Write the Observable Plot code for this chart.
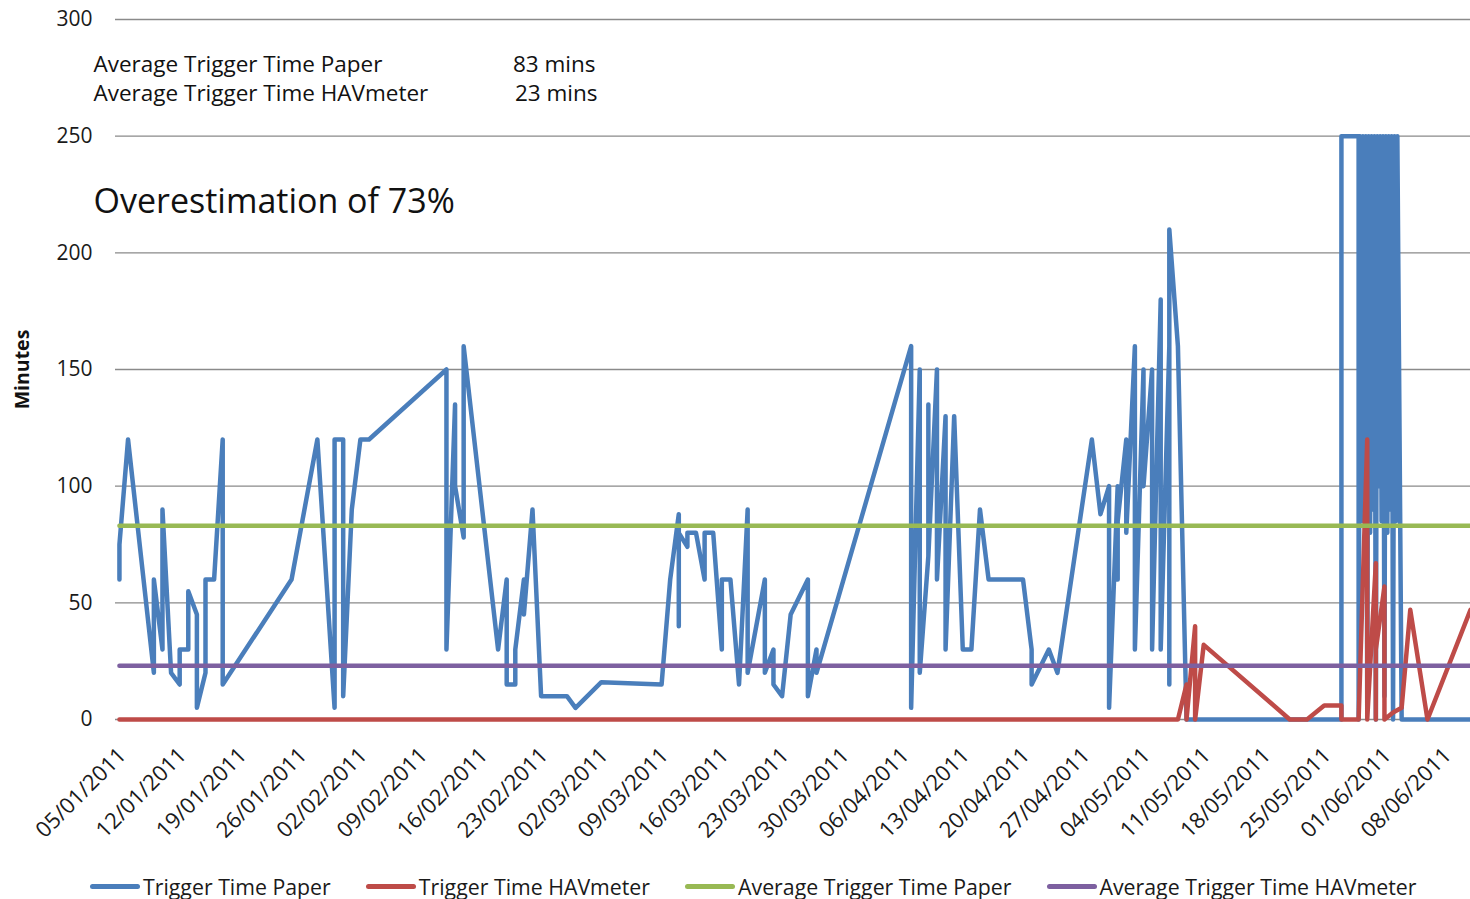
<!DOCTYPE html>
<html><head><meta charset="utf-8">
<script src="https://cdn.jsdelivr.net/npm/d3@7"></script>
<script src="https://cdn.jsdelivr.net/npm/@observablehq/plot@0.6"></script>
<style>
html,body{margin:0;padding:0;background:#fff;}
#wrap{position:relative;width:1470px;height:899px;overflow:hidden;font-family:"Open Sans",sans-serif;}
#legend{position:absolute;left:90px;top:872px;height:28px;display:flex;align-items:center;gap:35px;font-size:21.3px;color:#1a1a1a;white-space:nowrap;}
.item{display:flex;align-items:center;}
.sw{width:50px;height:5px;border-radius:3px;margin-right:3px;}
</style></head><body><div id="wrap"><div id="chart"></div><div id="legend"></div></div>
<script>
const paperDates = [
"2011-01-05","2011-01-05","2011-01-06","2011-01-09","2011-01-09","2011-01-10","2011-01-10","2011-01-11","2011-01-12","2011-01-12",
"2011-01-13","2011-01-13","2011-01-14","2011-01-14","2011-01-15","2011-01-15","2011-01-16","2011-01-17","2011-01-17","2011-01-25",
"2011-01-28","2011-01-30","2011-01-30","2011-01-31","2011-01-31","2011-02-01","2011-02-02","2011-02-03","2011-02-12","2011-02-12",
"2011-02-13","2011-02-13","2011-02-14","2011-02-14","2011-02-18","2011-02-19","2011-02-19","2011-02-20","2011-02-20","2011-02-21",
"2011-02-21","2011-02-22","2011-02-23","2011-02-26","2011-02-27","2011-03-02","2011-03-09","2011-03-10","2011-03-11","2011-03-11",
"2011-03-11","2011-03-12","2011-03-12","2011-03-13","2011-03-14","2011-03-14","2011-03-15","2011-03-16","2011-03-16","2011-03-17",
"2011-03-18","2011-03-19","2011-03-19","2011-03-21","2011-03-21","2011-03-22","2011-03-22","2011-03-23","2011-03-24","2011-03-26",
"2011-03-26","2011-03-27","2011-03-27","2011-04-07","2011-04-07","2011-04-08","2011-04-08","2011-04-09","2011-04-09","2011-04-09",
"2011-04-10","2011-04-10","2011-04-11","2011-04-11","2011-04-12","2011-04-13","2011-04-14","2011-04-15","2011-04-16","2011-04-20",
"2011-04-21","2011-04-21","2011-04-23","2011-04-24","2011-04-28","2011-04-29","2011-04-30","2011-04-30","2011-05-01","2011-05-01",
"2011-05-01","2011-05-02","2011-05-02","2011-05-03","2011-05-03","2011-05-04","2011-05-04","2011-05-05","2011-05-05","2011-05-06",
"2011-05-06","2011-05-07","2011-05-07","2011-05-07","2011-05-08","2011-05-09","2011-05-27","2011-05-27","2011-05-29","2011-05-29",
"2011-05-29T04:00","2011-05-29T08:00","2011-05-29T12:00","2011-05-29T16:00","2011-05-29T20:00",
"2011-05-30T00:00","2011-05-30T04:00","2011-05-30T08:00","2011-05-30T12:00","2011-05-30T16:00","2011-05-30T20:00",
"2011-05-31T00:00","2011-05-31T04:00","2011-05-31T08:00","2011-05-31T12:00","2011-05-31T16:00","2011-05-31T20:00",
"2011-06-01T00:00","2011-06-01T04:00","2011-06-01T08:00","2011-06-01T12:00","2011-06-01T16:00","2011-06-01T20:00",
"2011-06-02T00:00","2011-06-02T04:00","2011-06-02T08:00","2011-06-02T12:00",
"2011-06-03","2011-06-11"];
const paperMinutes = [
60,75,120,20,60,30,90,20,15,30,
30,55,45,5,20,60,60,120,15,60,
120,5,120,120,10,90,120,120,150,30,
135,100,78,160,30,60,15,15,30,60,
45,90,10,10,5,16,15,60,88,40,
80,74,80,80,60,80,80,30,60,60,
15,90,20,60,20,30,15,10,45,60,
10,30,20,160,5,150,20,70,135,70,
150,60,130,30,130,30,30,90,60,60,
30,15,30,20,120,88,100,5,100,60,
85,120,80,160,30,150,100,150,30,180,
30,160,15,210,160,0,0,250,250,0,
250,85,250,95,250,
5,250,80,250,90,250,
0,250,100,250,85,250,
10,250,80,250,90,250,
0,250,85,250,
0,0];
const havDates = [
"2011-01-05","2011-05-08","2011-05-09","2011-05-09","2011-05-10","2011-05-10","2011-05-11","2011-05-21","2011-05-23","2011-05-25",
"2011-05-27","2011-05-27","2011-05-29","2011-05-30","2011-05-30","2011-05-30","2011-05-30","2011-05-31","2011-05-31","2011-05-31",
"2011-06-01","2011-06-01","2011-06-02","2011-06-03","2011-06-04","2011-06-06","2011-06-11"];
const havMinutes = [
0,0,15,0,40,0,32,0,0,6,
6,0,0,120,0,40,0,67,0,30,
57,0,3,5,47,0,47];
const avgPaper = 83;
const avgHav = 23;
const yTicks = [0,50,100,150,200,250,300];
const xTickDates = ["2011-01-05","2011-01-12","2011-01-19","2011-01-26","2011-02-02","2011-02-09","2011-02-16","2011-02-23",
"2011-03-02","2011-03-09","2011-03-16","2011-03-23","2011-03-30","2011-04-06","2011-04-13","2011-04-20","2011-04-27",
"2011-05-04","2011-05-11","2011-05-18","2011-05-25","2011-06-01","2011-06-08"];
const xDomain = ["2011-01-04T13:00:00Z","2011-06-11T00:00:00Z"];
const seriesNames = ["Trigger Time Paper","Trigger Time HAVmeter","Average Trigger Time Paper","Average Trigger Time HAVmeter"];
const seriesColors = ["#4A7EBB","#BE4B48","#98B954","#7D60A0"];
const noteLabels = ["Average Trigger Time Paper","Average Trigger Time HAVmeter"];
const noteValues = ["83 mins","23 mins"];
const headline = "Overestimation of 73%";
const yTitle = "Minutes";

const parse = d => new Date(d.length === 10 ? d + "T00:00:00Z" : (d.endsWith("Z") ? d : d + ":00Z"));
const paper = paperDates.map((d, i) => ({date: parse(d), value: paperMinutes[i]}));
const hav = havDates.map((d, i) => ({date: parse(d), value: havMinutes[i]}));
const firstDay = parse(paperDates[0]);
const lastDay = parse(xDomain[1]);
const avgP = [{date: firstDay, value: avgPaper}, {date: lastDay, value: avgPaper}];
const avgH = [{date: firstDay, value: avgHav}, {date: lastDay, value: avgHav}];
const fmt = d3.utcFormat("%d/%m/%Y");
const lineOpts = {x: "date", y: "value", strokeWidth: 4.5, strokeLinejoin: "round", strokeLinecap: "round"};
const note = {frameAnchor: "top-left", lineAnchor: "middle", fill: "#111"};

const chart = Plot.plot({
  width: 1470, height: 860,
  marginLeft: 115, marginRight: 0, marginTop: 19, marginBottom: 141,
  style: {fontFamily: "Open Sans", fontSize: "21px", color: "#1a1a1a", background: "#fff", overflow: "visible"},
  x: {type: "utc", domain: xDomain.map(parse)},
  y: {domain: [0, 300]},
  marks: [
    Plot.gridY(yTicks, {stroke: "#8a8a8a", strokeOpacity: 1, strokeWidth: 1.3}),
    Plot.axisY(yTicks, {tickSize: 0, tickPadding: 23, fontSize: 21, label: null}),
    Plot.axisX(xTickDates.map(parse), {tickSize: 0, tickPadding: 32, dx: 3, tickRotate: -45, tickFormat: fmt, fontSize: 22, label: null}),
    Plot.line(paper, {...lineOpts, stroke: seriesColors[0]}),
    Plot.line(hav, {...lineOpts, stroke: seriesColors[1]}),
    Plot.line(avgP, {...lineOpts, stroke: seriesColors[2]}),
    Plot.line(avgH, {...lineOpts, stroke: seriesColors[3]}),
    Plot.text([yTitle], {frameAnchor: "left", textAnchor: "middle", lineAnchor: "middle", dx: -93, rotate: -90, fontWeight: "bold", fontSize: 19.5, fill: "#111"}),
    Plot.text([noteLabels[0]], {...note, dx: -22, dy: 45, textAnchor: "start", fontSize: 22.5}),
    Plot.text([noteLabels[1]], {...note, dx: -22, dy: 74, textAnchor: "start", fontSize: 22.5}),
    Plot.text([noteValues[0]], {...note, dx: 480, dy: 45, textAnchor: "end", fontSize: 22.5}),
    Plot.text([noteValues[1]], {...note, dx: 482, dy: 74, textAnchor: "end", fontSize: 22.5}),
    Plot.text([headline], {...note, dx: -22, dy: 183, textAnchor: "start", fontSize: 34})
  ]
});
document.getElementById("chart").append(chart);

const legend = document.getElementById("legend");
seriesNames.forEach((name, i) => {
  const item = document.createElement("div");
  item.className = "item";
  const sw = document.createElement("span");
  sw.className = "sw";
  sw.style.background = seriesColors[i];
  const label = document.createElement("span");
  label.textContent = name;
  item.append(sw, label);
  legend.append(item);
});
</script></body></html>
